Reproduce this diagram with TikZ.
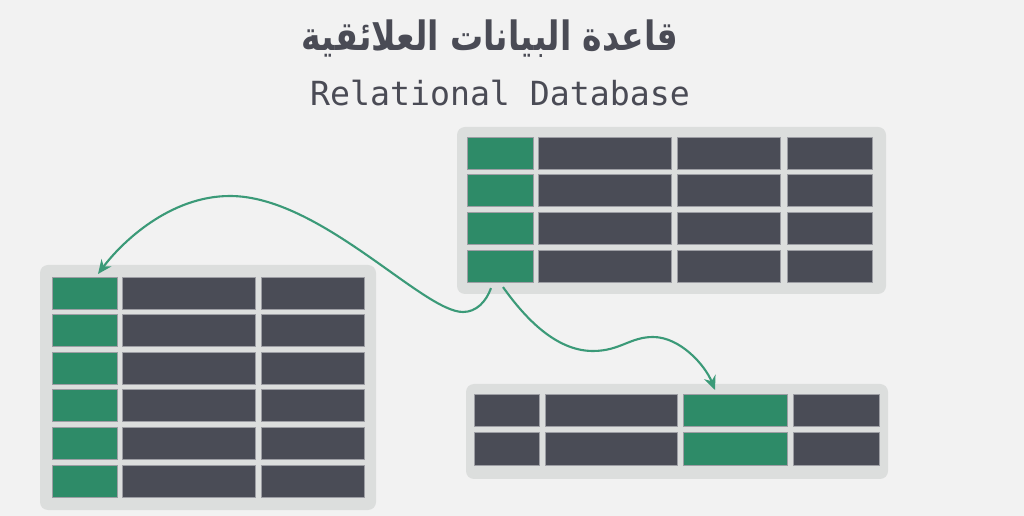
\documentclass[tikz,border=0pt]{standalone}
\usepackage{fontspec}
\usetikzlibrary{arrows.meta,calc}
\TeXXeTstate=1
\newfontfamily\arabicfont[Script=Arabic]{DejaVu Sans}
\newfontfamily\monofont{DejaVu Sans Mono}
\definecolor{bgcol}{HTML}{F2F2F2}
\definecolor{panelcol}{HTML}{DCDEDD}
\definecolor{darkcell}{HTML}{4A4C56}
\definecolor{keycell}{HTML}{2E8B68}
\definecolor{celledge}{HTML}{9D9EA4}
\definecolor{linkcol}{HTML}{3B9A78}
\definecolor{titlecol}{HTML}{4A4B55}
\tikzset{
  panel/.style={fill=panelcol,rounded corners=8*0.02cm},
  cell/.style={draw=celledge,line width=0.4pt,inner sep=0pt,outer sep=0pt,anchor=north west},
  datacell/.style={cell,fill=darkcell},
  keycellst/.style={cell,fill=keycell},
  link/.style={draw=linkcol,line width=1.2pt,-{Stealth[length=8pt,width=7pt]}}
}
\begin{document}
\begin{tikzpicture}[x=0.02cm,y=-0.02cm]
	\useasboundingbox[fill=bgcol] (0,0) rectangle (1024,516);
	% title
	\node[text=titlecol] (titlear) at (490,39) {\scalebox{0.94}[1.15]{\arabicfont\bfseries\fontsize{20pt}{24pt}\selectfont\beginR قاعدة البيانات العلائقية\endR}};
	\node[text=titlecol] (titleen) at (500,93) {\monofont\fontsize{18.9pt}{22pt}\selectfont Relational Database};
	% top table
	\fill[panel] (457,127) rectangle (886,294);
	\foreach \r in {1,...,4}{
		\node[keycellst,minimum width=66*0.02cm,minimum height=32*0.02cm] (ta-\r-1) at (467,{137+37.7*(\r-1)}) {};
		\foreach \x/\w [count=\c from 2] in {538/133,677/103,787/85}
			\node[datacell,minimum width=\w*0.02cm,minimum height=32*0.02cm] (ta-\r-\c) at (\x,{137+37.7*(\r-1)}) {};
	}
	% left table
	\fill[panel] (40,265) rectangle (376,510);
	\foreach \r in {1,...,6}{
		\node[keycellst,minimum width=65*0.02cm,minimum height=32*0.02cm] (tb-\r-1) at (52,{277+37.6*(\r-1)}) {};
		\foreach \x/\w [count=\c from 2] in {122/133,261/103}
			\node[datacell,minimum width=\w*0.02cm,minimum height=32*0.02cm] (tb-\r-\c) at (\x,{277+37.6*(\r-1)}) {};
	}
	% bottom table
	\fill[panel] (466,384) rectangle (888,479);
	\foreach \r in {1,2}{
		\node[datacell,minimum width=65*0.02cm,minimum height=32.5*0.02cm] (tc-\r-1) at (474,{394+38.8*(\r-1)}) {};
		\node[datacell,minimum width=132*0.02cm,minimum height=32.5*0.02cm] (tc-\r-2) at (545,{394+38.8*(\r-1)}) {};
		\node[keycellst,minimum width=104*0.02cm,minimum height=32.5*0.02cm] (tc-\r-3) at (683,{394+38.8*(\r-1)}) {};
		\node[datacell,minimum width=86*0.02cm,minimum height=32.5*0.02cm] (tc-\r-4) at (793,{394+38.8*(\r-1)}) {};
	}
	% links
	\draw[link] ($(ta-4-1.south)+(-9,6)$) .. controls +(-5,14) and +(13,0) .. (463,312)
		.. controls +(-40,0) and +(90,0) .. (230,196)
		.. controls +(-60,0) and +(24,-32) .. ($(tb-1-1.north)+(13.5,-3)$);
	\draw[link] ($(ta-4-1.south)+(3,5)$) .. controls +(27,38) and +(-33,0) .. (593,351)
		.. controls +(27,0) and +(-23,0) .. (653,337)
		.. controls +(27,0) and +(-10,-25) .. ($(tc-1-3.north)+(-20,-4)$);
\end{tikzpicture}
\end{document}
